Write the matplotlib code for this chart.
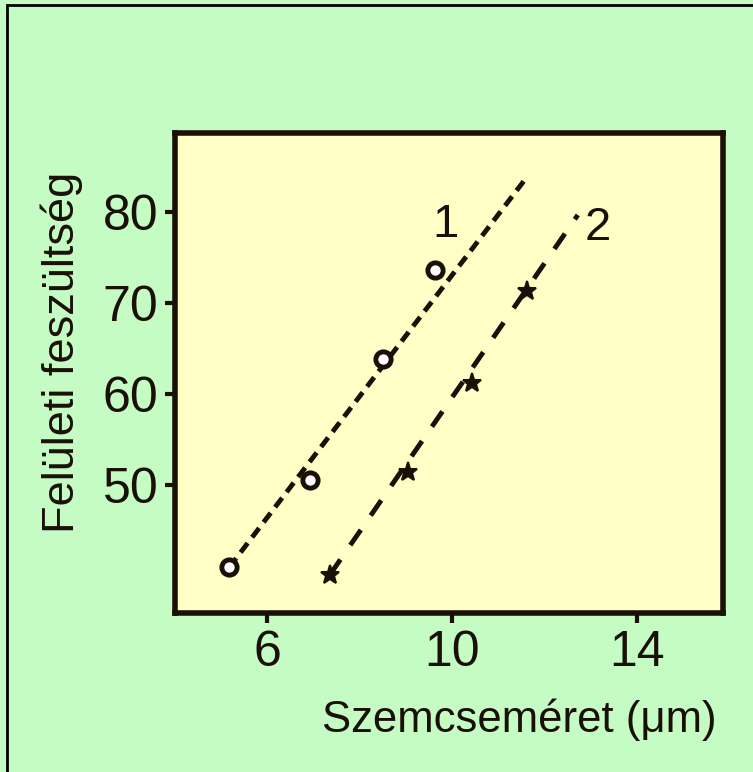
import matplotlib
matplotlib.use("Agg")
import matplotlib.pyplot as plt
from matplotlib.patches import Rectangle

# data
x1 = [5.18, 6.93, 8.51, 9.63]
y1 = [41.0, 50.6, 63.9, 73.7]
fit1_x = [5.18, 11.58]
fit1_y = [41.0, 83.6]

x2 = [7.36, 9.05, 10.43, 11.62]
y2 = [40.2, 51.5, 61.3, 71.3]
fit2_x = [7.36, 12.72]
fit2_y = [40.2, 79.7]

x_ticks = [6, 10, 14]
y_ticks = [50, 60, 70, 80]
series_labels = ["1", "2"]
label_pos = [(9.85, 78.6), (13.15, 78.3)]

plt.rcParams["font.family"] = ["Liberation Sans Narrow", "Liberation Sans", "DejaVu Sans"]

bg = "#c4fcc4"
face = "#ffffc6"
ink = "#1a1008"

fig = plt.figure(figsize=(7.53, 7.72), dpi=100, facecolor=bg)
ax = fig.add_axes([175 / 753, 1 - 613 / 772, 548 / 753, 480 / 772])
ax.set_facecolor(face)

ax.plot(fit1_x, fit1_y, color=ink, lw=3.5, dashes=(2.4, 1.5))
ax.plot(fit2_x, fit2_y, color=ink, lw=3.5, dashes=(3.8, 3.6))
ax.plot(x1, y1, "o", ms=11, mfc="white", mec=ink, mew=3.5)
ax.plot(x2, y2, "*", ms=14, mfc=ink, mec=ink, mew=1.5)

for lab, (lx, ly) in zip(series_labels, label_pos):
    ax.text(lx, ly, lab, fontsize=34, ha="center", va="center", color=ink)

ax.set_xlim(4.01, 15.86)
ax.set_ylim(36.0, 88.7)
ax.set_xticks(x_ticks)
ax.set_yticks(y_ticks)
ax.tick_params(labelsize=36, length=7, width=3, color=ink, labelcolor=ink, pad=5)

for sp in ax.spines.values():
    sp.set_linewidth(4)
    sp.set_color(ink)

fig.text(717 / 753, 1 - 720 / 772, "Szemcseméret (μm)", fontsize=31.5,
         ha="right", va="center", color=ink)
fig.text(62 / 753, 1 - 352 / 772, "Felületi feszültség", fontsize=32.5,
         rotation=90, ha="center", va="center", color=ink)

# black frame on the left and top of the figure
fig.patches.append(Rectangle((7 / 753, -0.1), 1.2, 1.1 - 5 / 772, transform=fig.transFigure,
                             fill=False, ec="black", lw=2, clip_on=False))

fig.savefig("out.png", dpi=100, facecolor=bg)
